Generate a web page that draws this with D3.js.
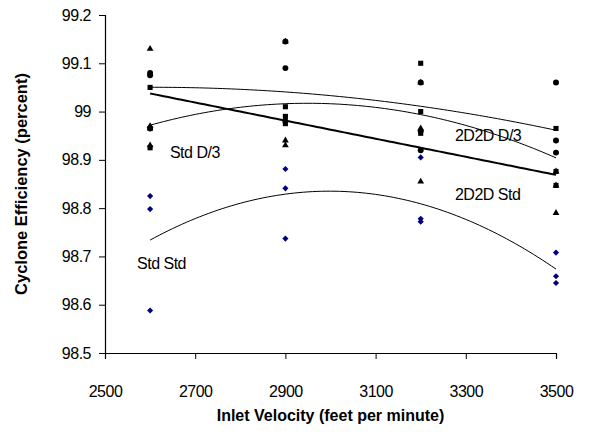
<!DOCTYPE html>
<html>
<head>
<meta charset="utf-8">
<script src="https://cdn.jsdelivr.net/npm/d3@7"></script>
<style>
  body { margin: 0; background: #fff; }
  text { font-family: "Liberation Sans", Arial, sans-serif; }
</style>
</head>
<body>
<script>
var width = 599,
  height = 437;

// inlet velocities (feet per minute), three replicates per velocity
const velocities = [2600, 2900, 3200, 3500];
const stdStd = [
  [98.825, 98.798, 98.588],
  [98.881, 98.841, 98.737],
  [98.905, 98.778, 98.772],
  [98.708, 98.659, 98.645],
];
const stdD3 = [
  [99.05, 98.965, 98.925],
  [99.01, 98.99, 98.975],
  [99.1, 99.0, 98.955],
  [98.965, 98.876, 98.847],
];
const d2d2Std = [
  [99.13, 98.97, 98.93],
  [99.145, 98.94, 98.93],
  [99.06, 98.965, 98.855],
  [98.876, 98.847, 98.79],
];
const d2d2D3 = [
  [99.08, 99.075, 98.965],
  [99.145, 99.09, 98.98],
  [99.06, 98.96, 98.92],
  [99.06, 98.94, 98.915],
];
const xTicks = [2500, 2700, 2900, 3100, 3300, 3500];
const yTicks = [98.5, 98.6, 98.7, 98.8, 98.9, 99, 99.1, 99.2];

const margin = { left: 105, right: 43, top: 15, bottom: 84 };

const svg = d3
  .select("body")
  .append("svg")
  .attr("width", width)
  .attr("height", height);

const x = d3
  .scaleLinear()
  .domain([2500, 3500])
  .range([margin.left, width - margin.right]);
const y = d3
  .scaleLinear()
  .domain([98.5, 99.2])
  .range([height - margin.bottom, margin.top]);

// least squares polynomial fit (like the spreadsheet trendline)
function polyFit(series, order) {
  const pts = [];
  series.forEach((reps, i) => reps.forEach((v) => pts.push([velocities[i], v])));
  const x0 = 3050,
    s = 300;
  const n = order + 1;
  const A = [];
  for (let r = 0; r < n; r++) A.push(new Array(n + 1).fill(0));
  pts.forEach(([px, py]) => {
    const t = (px - x0) / s;
    for (let r = 0; r < n; r++) {
      for (let c = 0; c < n; c++) A[r][c] += Math.pow(t, r + c);
      A[r][n] += py * Math.pow(t, r);
    }
  });
  for (let i = 0; i < n; i++) {
    for (let k = i + 1; k < n; k++) {
      const f = A[k][i] / A[i][i];
      for (let c = i; c <= n; c++) A[k][c] -= f * A[i][c];
    }
  }
  const coef = new Array(n).fill(0);
  for (let i = n - 1; i >= 0; i--) {
    let sum = A[i][n];
    for (let c = i + 1; c < n; c++) sum -= A[i][c] * coef[c];
    coef[i] = sum / A[i][i];
  }
  return (v) => {
    const t = (v - x0) / s;
    return coef.reduce((acc, c, i) => acc + c * Math.pow(t, i), 0);
  };
}

// axes
const xAxis = svg
  .append("g")
  .attr("transform", `translate(0,${y(98.5)})`)
  .call(d3.axisBottom(x).tickValues(xTicks).tickSize(6).tickPadding(27).tickFormat(d3.format("d")));
const yAxis = svg
  .append("g")
  .attr("transform", `translate(${x(2500)},0)`)
  .call(d3.axisLeft(y).tickValues(yTicks).tickSize(6).tickPadding(8).tickFormat((d) => (d === 99 ? "99" : d3.format(".1f")(d))));
[xAxis, yAxis].forEach((g) => {
  g.select(".domain").attr("stroke", "#000").attr("stroke-width", 1.2);
  g.selectAll(".tick line").attr("stroke", "#000");
  g.selectAll(".tick text").attr("font-size", 16).attr("fill", "#000").style("letter-spacing", "-0.5px");
});

svg
  .append("text")
  .attr("x", (x(2500) + x(3500)) / 2)
  .attr("y", 421)
  .attr("text-anchor", "middle")
  .attr("font-size", 16)
  .attr("font-weight", "bold")
  .text("Inlet Velocity (feet per minute)");
svg
  .append("text")
  .attr("transform", `translate(27,${(y(98.5) + y(99.2)) / 2}) rotate(-90)`)
  .attr("text-anchor", "middle")
  .attr("font-size", 16.5)
  .attr("font-weight", "bold")
  .text("Cyclone Efficiency (percent)");

// markers
function points(series) {
  const out = [];
  series.forEach((reps, i) => reps.forEach((v) => out.push([velocities[i], v])));
  return out;
}
function drawMarkers(series, symbol, size, color) {
  svg
    .append("g")
    .selectAll("path")
    .data(points(series))
    .join("path")
    .attr("transform", (d) => `translate(${x(d[0])},${y(d[1])})`)
    .attr("d", d3.symbol(symbol, size))
    .attr("fill", color);
}
drawMarkers(stdStd, d3.symbolDiamond2, 24, "#000080");
drawMarkers(d2d2Std, d3.symbolTriangle, 20, "#000");
drawMarkers(d2d2D3, d3.symbolCircle, 28, "#000");
drawMarkers(stdD3, d3.symbolSquare, 26, "#000");

// trendlines
const line = d3.line().x((d) => x(d[0])).y((d) => y(d[1]));
const curveX = d3.range(2600, 3501, 10);
function drawTrend(series, order, w) {
  const f = polyFit(series, order);
  svg
    .append("path")
    .datum(curveX.map((v) => [v, f(v)]))
    .attr("d", line)
    .attr("fill", "none")
    .attr("stroke", "#000")
    .attr("stroke-width", w);
}
drawTrend(stdStd, 2, 1);
drawTrend(stdD3, 2, 1);
drawTrend(d2d2D3, 2, 1);
drawTrend(d2d2Std, 1, 2);

// series labels
const labels = [
  { text: "2D2D D/3", vx: 3276, vy: 98.94 },
  { text: "Std D/3", vx: 2644, vy: 98.904 },
  { text: "2D2D Std", vx: 3276, vy: 98.817 },
  { text: "Std Std", vx: 2571, vy: 98.674 },
];
svg
  .append("g")
  .selectAll("text")
  .data(labels)
  .join("text")
  .attr("x", (d) => x(d.vx))
  .attr("y", (d) => y(d.vy))
  .attr("font-size", 16)
  .style("letter-spacing", "-0.5px")
  .text((d) => d.text);
</script>
</body>
</html>
